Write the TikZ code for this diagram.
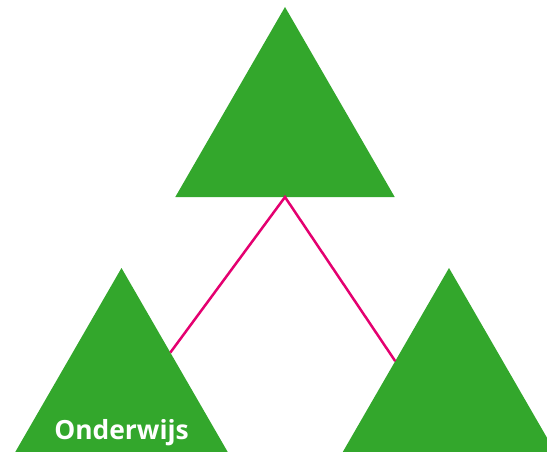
\documentclass[tikz,border=0pt]{standalone}
\usepackage{fontspec}
\setsansfont{Open Sans}
\usepackage{tikz}
\usetikzlibrary{shapes.geometric, calc}
\definecolor{groen}{RGB}{51,167,44}
\definecolor{roze}{RGB}{228,0,112}

\begin{document}
\begin{tikzpicture}[x=1pt, y=-1pt,
		driehoek/.style={regular polygon, regular polygon sides=3, fill=groen, draw=none,
			minimum size=253.4pt, inner sep=0pt, outer sep=0pt},
		lijn/.style={draw=roze, line width=2.5pt},
		label/.style={text=white, font=\sffamily\bfseries\fontsize{26.4}{30}\selectfont, anchor=base}]
		% Bildbereich
		\useasboundingbox (0,0) rectangle (547,452);
		\clip (0,0) rectangle (547,452);
		% Driehoeken
		\node[driehoek] (boven) at (285,133.7) {};
		\node[driehoek] (links) at (121.5,394.7) {};
		\node[driehoek] (rechts) at (449,394.7) {};
		% Verbindingen
		\coordinate (eindL) at ($(links.corner 1)!0.445!(links.corner 3)$);
		\coordinate (eindR) at ($(rechts.corner 1)!0.49!(rechts.corner 2)$);
		\draw[lijn] (eindL) -- (boven.south) -- (eindR);
		% Beschriftung
		\node[label] (onderwijs) at (121.5,439) {Onderwijs};
	\end{tikzpicture}
\end{document}
